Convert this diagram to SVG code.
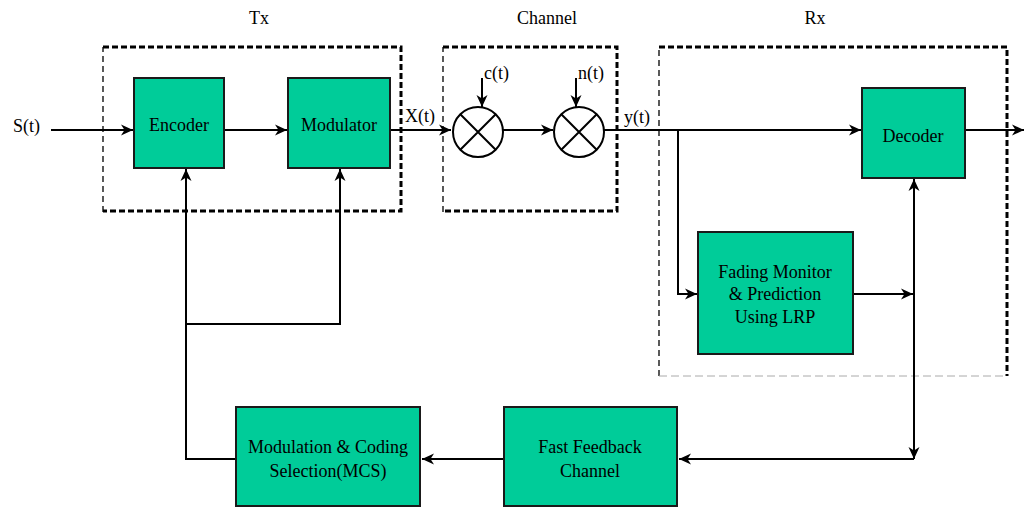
<svg xmlns="http://www.w3.org/2000/svg" width="1025" height="509" viewBox="0 0 1025 509">
<style>
.box{fill:#00CC99;stroke:#1a1a1a;stroke-width:2}
.t{font-family:'Liberation Serif','Times New Roman',Times,'DejaVu Serif',serif;font-size:18px;fill:#000}
.c{text-anchor:middle}
.w{fill:none;stroke:#000;stroke-width:2}
.thin{fill:none;stroke:#000;stroke-width:1.3;stroke-dasharray:6,4}
.thick{fill:none;stroke:#000;stroke-width:3;stroke-dasharray:6,3}
.gray{fill:none;stroke:#aaa;stroke-width:1;stroke-dasharray:8,4}
.mix{fill:#fff;stroke:#000;stroke-width:2}
</style>
<defs>
<marker id="ar" markerUnits="userSpaceOnUse" markerWidth="14" markerHeight="12" refX="12" refY="6" orient="auto-start-reverse">
<path d="M0,0.5 L12,6 L0,11.5 L3.5,6 z" fill="#000"/>
</marker>
</defs>

<g id="labels" font-family="Liberation Serif, serif">
<text class="t c" x="259" y="24">Tx</text>
<text class="t c" x="547" y="24">Channel</text>
<text class="t c" x="815" y="24">Rx</text>
<text class="t" x="13" y="132">S(t)</text>
<text class="t" x="405" y="122">X(t)</text>
<text class="t" x="484" y="79">c(t)</text>
<text class="t" x="578" y="79">n(t)</text>
<text class="t" x="624" y="123">y(t)</text>
</g>

<g id="tx-frame">
<path class="thin" d="M103,212 L103,47"/>
<path class="thick" d="M103,47 L401,47 L401,211 L103,211"/>
</g>
<g id="channel-frame">
<path class="thin" d="M443,212 L443,47"/>
<path class="thick" d="M443,47 L617,47 L617,211 L443,211"/>
</g>
<g id="rx-frame">
<path class="thin" d="M659,376 L659,47"/>
<path class="thick" d="M659,47 L1007,47 L1007,376"/>
<path class="gray" d="M659,376 L1007,376"/>
</g>

<g id="connectors">
<path class="w" d="M51,130 L133,130" marker-end="url(#ar)"/>
<path class="w" d="M224,130 L287,130" marker-end="url(#ar)"/>
<path class="w" d="M390,130 L451,130" marker-end="url(#ar)"/>
<path class="w" d="M503,130 L553,130" marker-end="url(#ar)"/>
<path class="w" d="M482,78 L482,107" marker-end="url(#ar)"/>
<path class="w" d="M576,78 L576,107" marker-end="url(#ar)"/>
<path class="w" d="M604,130 L861,130" marker-end="url(#ar)"/>
<path class="w" d="M965,130 L1024,130" marker-end="url(#ar)"/>
<path class="w" d="M678,130 L678,294 L697,294" marker-end="url(#ar)"/>
<path class="w" d="M853,294 L913,294" marker-end="url(#ar)"/>
<path class="w" d="M914,459 L914,179" marker-start="url(#ar)" marker-end="url(#ar)"/>
<path class="w" d="M914,459 L679,459" marker-end="url(#ar)"/>
<path class="w" d="M504,459 L422,459" marker-end="url(#ar)"/>
<path class="w" d="M236,459 L186,459 L186,169" marker-end="url(#ar)"/>
<path class="w" d="M186,324 L340,324 L340,169" marker-end="url(#ar)"/>
</g>

<g id="encoder">
<rect class="box" x="134" y="78" width="90" height="90"/>
<text class="t c" x="179" y="131">Encoder</text>
</g>
<g id="modulator">
<rect class="box" x="288" y="78" width="102" height="90"/>
<text class="t c" x="339" y="131">Modulator</text>
</g>
<g id="mixer-c">
<circle class="mix" cx="478" cy="132" r="25"/>
<path class="w" d="M460.3,114.3 L495.7,149.7 M495.7,114.3 L460.3,149.7"/>
</g>
<g id="mixer-n">
<circle class="mix" cx="579" cy="132" r="25"/>
<path class="w" d="M561.3,114.3 L596.7,149.7 M596.7,114.3 L561.3,149.7"/>
</g>
<g id="decoder">
<rect class="box" x="862" y="88" width="103" height="90"/>
<text class="t c" x="913" y="142">Decoder</text>
</g>
<g id="fading">
<rect class="box" x="698" y="232" width="155" height="122"/>
<text class="t c" x="775" y="278">Fading Monitor</text>
<text class="t c" x="775" y="300">&amp; Prediction</text>
<text class="t c" x="775" y="323">Using LRP</text>
</g>
<g id="feedback">
<rect class="box" x="504" y="407" width="173" height="99"/>
<text class="t c" x="590" y="453">Fast Feedback</text>
<text class="t c" x="590" y="477">Channel</text>
</g>
<g id="mcs">
<rect class="box" x="236" y="407" width="184" height="99"/>
<text class="t c" x="328" y="453">Modulation &amp; Coding</text>
<text class="t c" x="328" y="477">Selection(MCS)</text>
</g>
</svg>
